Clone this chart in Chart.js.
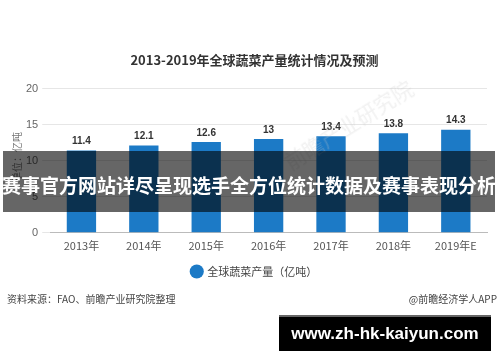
<!DOCTYPE html>
<html>
<head>
<meta charset="utf-8">
<script src="https://cdn.jsdelivr.net/npm/chart.js@4.4.1/dist/chart.umd.min.js"></script>
<style>
    html, body { margin: 0; padding: 0; background: #fff; }
    #wrap { position: relative; width: 500px; height: 362px; overflow: hidden; font-family: "Noto Sans CJK SC", sans-serif; }
    #chart { position: absolute; left: 0; top: 0; }
    .mark { position: absolute; white-space: nowrap; }
    #unit { left: 16px; top: 157px; font-size: 10px; color: #777; transform: translate(-50%, -50%) rotate(-90deg); }
    #wm { left: 348px; top: 124px; font-size: 21px; color: rgba(200,200,200,0.25); transform: translate(-50%, -50%) rotate(-32deg); }
    #banner { left: 3px; top: 151px; width: 492px; height: 61px; background: rgba(0,0,0,0.6); }
    #bannerText { left: 249px; top: 184px; transform: translate(-50%, -50%); color: #fff; font-size: 19px; font-weight: bold; }
    #source { left: 7px; top: 291px; font-size: 10px; color: #444; }
    #app { right: 3px; top: 291px; font-size: 10px; color: #444; }
    #site { left: 279px; top: 315px; width: 212px; height: 36px; background: #000; border-top: 2px solid #666; box-sizing: border-box;
        color: #fff; font-family: "Liberation Sans", Arial, sans-serif; font-weight: bold; font-size: 17px; line-height: 34px; text-align: center; }
</style>
</head>
<body>
<div id="wrap">
    <canvas id="chart" width="500" height="362"></canvas>
    <div class="mark" id="wm">前瞻产业研究院</div>
    <div class="mark" id="unit">单位：亿吨</div>
    <div class="mark" id="banner"></div>
    <div class="mark" id="bannerText">赛事官方网站详尽呈现选手全方位统计数据及赛事表现分析</div>
    <div class="mark" id="source">资料来源：FAO、前瞻产业研究院整理</div>
    <div class="mark" id="app">@前瞻经济学人APP</div>
    <div class="mark" id="site">www.zh-hk-kaiyun.com</div>
</div>
<script>
const years = ['2013年', '2014年', '2015年', '2016年', '2017年', '2018年', '2019年E'];
const output = [11.4, 12.1, 12.6, 13, 13.4, 13.8, 14.3];
const yTicks = [0, 5, 10, 15, 20];

const cjk = '"Noto Sans CJK SC", "Microsoft YaHei", sans-serif';

// value labels above each bar
const barLabels = {
    id: 'barLabels',
    afterDatasetsDraw(chart) {
        const ctx = chart.ctx;
        const meta = chart.getDatasetMeta(0);
        ctx.save();
        ctx.font = 'bold 10px "Liberation Sans", Arial, sans-serif';
        ctx.fillStyle = '#333';
        ctx.textAlign = 'center';
        ctx.textBaseline = 'bottom';
        meta.data.forEach((bar, i) => {
            ctx.fillText(String(output[i]), bar.x, bar.y - 4);
        });
        ctx.restore();
    }
};

new Chart(document.getElementById('chart'), {
    type: 'bar',
    data: {
        labels: years,
        datasets: [{
            label: '全球蔬菜产量（亿吨）',
            data: output,
            backgroundColor: '#1c7ac6',
            categoryPercentage: 1,
            barPercentage: 0.47
        }]
    },
    options: {
        responsive: false,
        animation: false,
        layout: { padding: { left: 22, right: 13, top: 0, bottom: 75 } },
        plugins: {
            title: {
                display: true,
                text: '2013-2019年全球蔬菜产量统计情况及预测',
                color: '#333',
                font: { family: cjk, size: 13, weight: 'bold' },
                padding: { top: 52, bottom: 21 }
            },
            legend: {
                position: 'bottom',
                labels: {
                    usePointStyle: true,
                    pointStyle: 'circle',
                    boxWidth: 10,
                    boxHeight: 10,
                    color: '#444',
                    font: { family: cjk, size: 11 },
                    padding: 8
                }
            },
            tooltip: { enabled: false }
        },
        scales: {
            x: {
                grid: { display: false, drawTicks: false },
                border: { display: true, color: '#bbb' },
                ticks: { color: '#555', font: { family: cjk, size: 11 }, padding: 6 }
            },
            y: {
                min: 0,
                max: 20,
                afterBuildTicks(axis) { axis.ticks = yTicks.map(v => ({ value: v })); },
                grid: { color: '#e6e6e6', tickLength: 8 },
                border: { display: false },
                ticks: { color: '#666', font: { family: '"Liberation Sans", Arial, sans-serif', size: 11 }, padding: 4 }
            }
        }
    },
    plugins: [barLabels]
});
</script>
</body>
</html>
